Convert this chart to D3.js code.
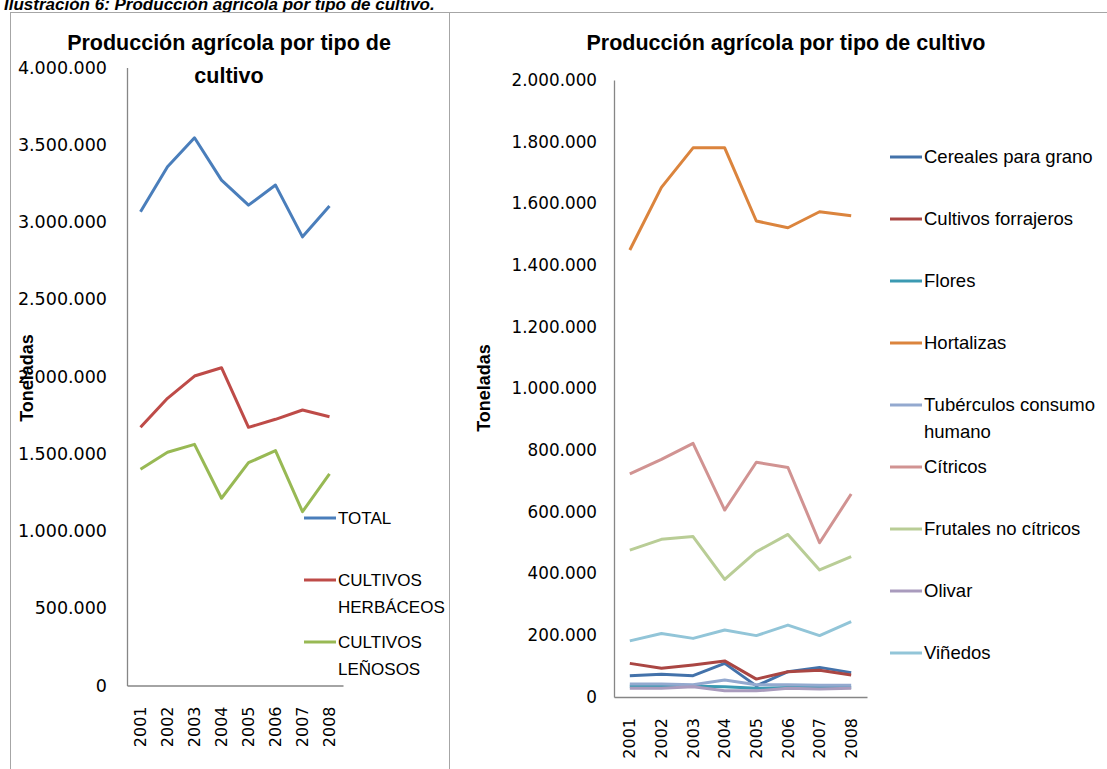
<!DOCTYPE html>
<html><head><meta charset="utf-8">
<script src="https://cdn.jsdelivr.net/npm/d3@7/dist/d3.min.js"></script>
<style>body{margin:0;background:#fff;}svg{display:block;}</style>
</head><body>
<svg id="c" width="1107" height="769"></svg>
<script>
const years = ["2001","2002","2003","2004","2005","2006","2007","2008"];

// Left chart series
const leftNames = ["TOTAL","CULTIVOS HERBÁCEOS","CULTIVOS LEÑOSOS"];
const total      = [3066000,3357000,3545000,3271000,3109000,3239000,2904000,3103000];
const herbaceos  = [1671000,1859000,2003000,2057000,1671000,1723000,1783000,1740000];
const lenosos    = [1400000,1510000,1561000,1212000,1442000,1520000,1125000,1369000];
const leftTicks  = [0,500000,1000000,1500000,2000000,2500000,3000000,3500000,4000000];

// Right chart series
const rightNames = ["Cereales para grano","Cultivos forrajeros","Flores","Hortalizas","Tubérculos consumo humano","Cítricos","Frutales no cítricos","Olivar","Viñedos"];
const cereales   = [69000,74000,69000,109000,36000,82000,96000,79000];
const forrajeros = [109000,93000,104000,117000,58000,82000,87000,71000];
const flores     = [35000,35000,35000,33000,28000,31000,31000,31000];
const hortalizas = [1449000,1652000,1780000,1780000,1543000,1521000,1573000,1560000];
const tuberculos = [42000,42000,40000,55000,40000,40000,38000,38000];
const citricos   = [723000,770000,822000,606000,761000,744000,500000,658000];
const frutales   = [476000,511000,520000,381000,471000,527000,412000,455000];
const olivar     = [28000,28000,33000,20000,20000,28000,26000,28000];
const vinedos    = [182000,206000,190000,217000,199000,233000,199000,244000];
const rightTicks = [0,200000,400000,600000,800000,1000000,1200000,1400000,1600000,1800000,2000000];

const leftColors  = ["#4A7EBB","#BE4B48","#98B954"];
const rightColors = ["#4372AA","#AA4643","#3B9AB2","#DB843D","#93A9CF","#D19392","#B9CD96","#A99BBD","#92C5D8"];

const svg = d3.select("#c");
const fmt = v => v === 0 ? "0" : d3.format(",")(v).replace(/,/g, ".");
const tickFont = "'DejaVu Sans', Verdana, sans-serif";
const textFont = "'Liberation Sans', Arial, sans-serif";

// Caption (top edge clipped, as in the source figure)
svg.append("text").attr("x", 4).attr("y", 10)
  .attr("font-family", textFont).attr("font-size", 17).attr("font-weight", "bold").attr("font-style", "italic")
  .attr("fill", "#000").text("Ilustración 6: Producción agrícola por tipo de cultivo.");

// Frames
svg.append("line").attr("x1", 10).attr("x2", 1107).attr("y1", 12.5).attr("y2", 12.5).attr("stroke", "#A6A6A6");
svg.append("line").attr("x1", 10.5).attr("x2", 10.5).attr("y1", 12).attr("y2", 769).attr("stroke", "#A6A6A6");
svg.append("line").attr("x1", 449.5).attr("x2", 449.5).attr("y1", 12).attr("y2", 769).attr("stroke", "#A6A6A6");

function drawChart(opt) {
  const g = svg.append("g");
  const x = d3.scaleBand().domain(years).range([opt.x0, opt.x1]);
  const y = d3.scaleLinear().domain([0, opt.ymax]).range([opt.y0, opt.y1]);
  // y axis
  const ya = g.append("g").attr("transform", `translate(${opt.x0},0)`)
    .call(d3.axisLeft(y).tickValues(opt.ticks).tickFormat(fmt).tickSize(0).tickPadding(opt.tpad));
  ya.select(".domain").attr("stroke", "#868686").attr("stroke-width", 1.3);
  ya.selectAll("text").attr("font-family", tickFont).attr("font-size", opt.tfs).attr("fill", "#000");
  // x axis
  const xa = g.append("g").attr("transform", `translate(0,${opt.y0})`)
    .call(d3.axisBottom(x).tickSize(0).tickPadding(0));
  xa.select(".domain").attr("stroke", "#868686").attr("stroke-width", 1.3);
  xa.selectAll("text").attr("font-family", tickFont).attr("font-size", 16).attr("fill", "#000")
    .attr("transform", "rotate(-90)").attr("text-anchor", "end")
    .attr("x", -opt.xlabOff).attr("y", 0).attr("dy", "0.35em");
  // lines
  const line = d3.line().x((d, i) => x(years[i]) + x.bandwidth() / 2).y(d => y(d));
  opt.series.forEach((s, i) => {
    g.append("path").datum(s).attr("d", line).attr("fill", "none")
      .attr("stroke", opt.colors[i]).attr("stroke-width", 3).attr("stroke-linejoin", "round");
  });
  // y title
  g.append("text").attr("transform", `translate(${opt.ytx},${opt.yty}) rotate(-90)`)
    .attr("text-anchor", "middle").attr("dy", "0.35em")
    .attr("font-family", textFont).attr("font-weight", "bold").attr("font-size", 18).text("Toneladas");
  // title
  opt.title.forEach((t, i) => {
    g.append("text").attr("x", opt.tx).attr("y", opt.ty + i * 33).attr("text-anchor", "middle")
      .attr("font-family", textFont).attr("font-weight", "bold").attr("font-size", opt.titleFs).text(t);
  });
  // legend
  opt.legend.forEach((L, i) => {
    g.append("line").attr("x1", opt.lx).attr("x2", opt.lx + 32).attr("y1", L.y).attr("y2", L.y)
      .attr("stroke", opt.colors[i]).attr("stroke-width", 3);
    L.lines.forEach((t, j) => {
      g.append("text").attr("x", opt.lx + 34).attr("y", L.y + j * 27).attr("dy", "0.35em")
        .attr("font-family", textFont).attr("font-size", opt.lfs).attr("fill", "#000").text(t);
    });
  });
}

drawChart({
  x0: 127, x1: 343, y0: 685.5, y1: 67.5, ymax: 4000000, ticks: leftTicks, tpad: 20, tfs: 17.5,
  xlabOff: 21, series: [total, herbaceos, lenosos], colors: leftColors,
  ytx: 27, yty: 378, title: ["Producción agrícola por tipo de", "cultivo"], tx: 229, ty: 50, titleFs: 21.5,
  lx: 304, lfs: 17,
  legend: [{y: 518, lines: ["TOTAL"]}, {y: 580, lines: ["CULTIVOS", "HERBÁCEOS"]}, {y: 642, lines: ["CULTIVOS", "LEÑOSOS"]}]
});

drawChart({
  x0: 614, x1: 867, y0: 697, y1: 80, ymax: 2000000, ticks: rightTicks, tpad: 17, tfs: 16.8,
  xlabOff: 21, series: [cereales, forrajeros, flores, hortalizas, tuberculos, citricos, frutales, olivar, vinedos],
  colors: rightColors,
  ytx: 484, yty: 388, title: ["Producción agrícola por tipo de cultivo"], tx: 786, ty: 50, titleFs: 21.5,
  lx: 890, lfs: 18.5,
  legend: [
    {y: 157, lines: ["Cereales para grano"]},
    {y: 219, lines: ["Cultivos forrajeros"]},
    {y: 281, lines: ["Flores"]},
    {y: 343, lines: ["Hortalizas"]},
    {y: 405, lines: ["Tubérculos consumo", "humano"]},
    {y: 467, lines: ["Cítricos"]},
    {y: 529, lines: ["Frutales no cítricos"]},
    {y: 591, lines: ["Olivar"]},
    {y: 653, lines: ["Viñedos"]}
  ]
});
</script>
</body></html>
